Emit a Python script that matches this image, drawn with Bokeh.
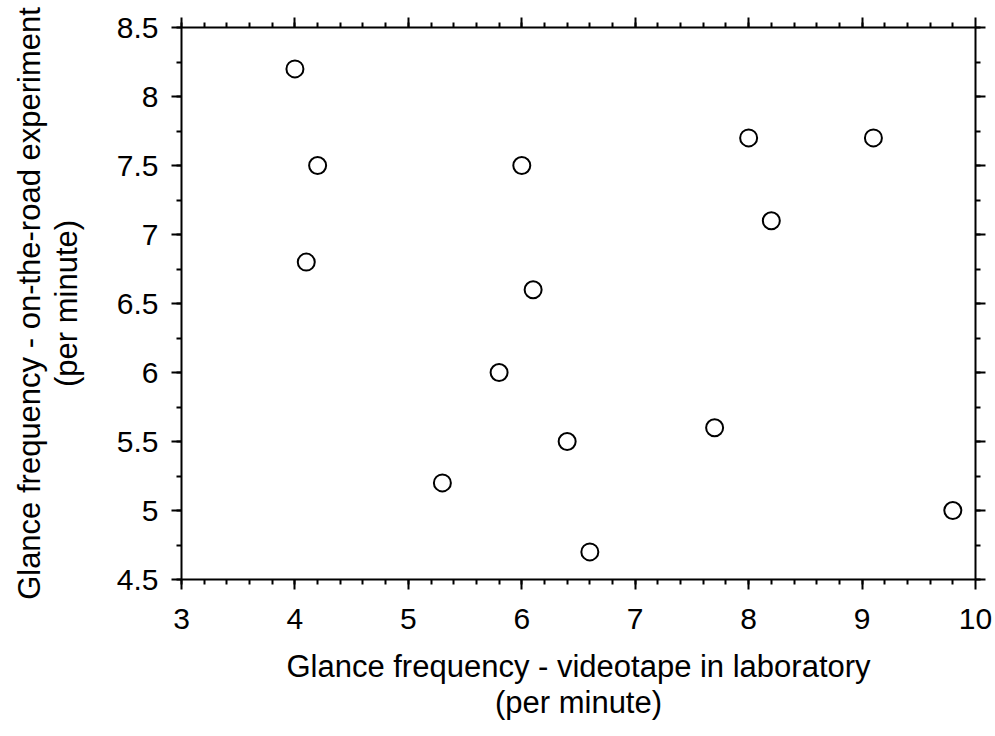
import numpy as np
from bokeh.plotting import figure
from bokeh.models import LinearAxis, FixedTicker, Range1d, ColumnDataSource
from bokeh.embed import file_html
from bokeh.resources import INLINE

# Data
lab_freq = [4.0, 4.2, 4.1, 6.0, 6.1, 5.8, 6.4, 5.3, 6.6, 8.0, 9.1, 8.2, 7.7, 9.8]
road_freq = [8.2, 7.5, 6.8, 7.5, 6.6, 6.0, 5.5, 5.2, 4.7, 7.7, 7.7, 7.1, 5.6, 5.0]

x_ticks = [3, 4, 5, 6, 7, 8, 9, 10]
x_tick_labels = ["3", "4", "5", "6", "7", "8", "9", "10"]
y_ticks = [4.5, 5, 5.5, 6, 6.5, 7, 7.5, 8, 8.5]
y_tick_labels = ["4.5", "5", "5.5", "6", "6.5", "7", "7.5", "8", "8.5"]

x_label = "Glance frequency - videotape in laboratory\n(per minute)"
y_label = "Glance frequency - on-the-road experiment\n(per minute)"

FONT = "Liberation Sans"
TICK_FS = "30px"
LABEL_FS = "31px"

p = figure(width=995, height=736, output_backend="svg", toolbar_location=None,
           x_range=Range1d(3, 10), y_range=Range1d(4.5, 8.5),
           x_axis_location=None, y_axis_location=None,
           min_border_left=181, min_border_right=20, min_border_top=27,
           min_border_bottom=157)
p.grid.visible = False
p.outline_line_color = None

x_minor = list(np.arange(3, 10.001, 0.2))
y_minor = list(np.arange(4.5, 8.501, 0.25))

def make_axis(ticks, labels, minor, show_labels, label_text=None):
    ax = LinearAxis(ticker=FixedTicker(ticks=ticks, minor_ticks=minor))
    if show_labels:
        ax.major_label_overrides = {t: l for t, l in zip(ticks, labels)}
    else:
        ax.major_label_overrides = {t: "" for t in ticks}
    ax.axis_line_width = 2
    ax.axis_line_color = "black"
    ax.major_tick_line_width = 2
    ax.minor_tick_line_width = 2
    ax.major_tick_in = 0
    ax.major_tick_out = 10
    ax.minor_tick_in = 0
    ax.minor_tick_out = 5
    ax.major_tick_line_color = "black"
    ax.minor_tick_line_color = "black"
    ax.major_label_text_font = FONT
    ax.major_label_text_font_size = TICK_FS
    ax.major_label_text_color = "black"
    if label_text:
        ax.axis_label = label_text
        ax.axis_label_text_font = FONT
        ax.axis_label_text_font_size = LABEL_FS
        ax.axis_label_text_font_style = "normal"
        ax.axis_label_text_color = "black"
        ax.axis_label_text_line_height = 1.05
    return ax

bottom = make_axis(x_ticks, x_tick_labels, x_minor, True, x_label)
bottom.major_label_standoff = 19
bottom.axis_label_standoff = 17
top = make_axis(x_ticks, x_tick_labels, x_minor, False)
top.major_label_standoff = 0
left = make_axis(y_ticks, y_tick_labels, y_minor, True, y_label)
left.major_label_standoff = 13
left.axis_label_standoff = 30
right = make_axis(y_ticks, y_tick_labels, y_minor, False)
right.major_label_standoff = 0

p.add_layout(bottom, "below")
p.add_layout(top, "above")
p.add_layout(left, "left")
p.add_layout(right, "right")

src = ColumnDataSource(dict(x=lab_freq, y=road_freq))
p.scatter("x", "y", source=src, marker="circle", size=17,
          line_color="black", line_width=2, fill_color="white")

open("out.html", "w").write(file_html(p, INLINE))
